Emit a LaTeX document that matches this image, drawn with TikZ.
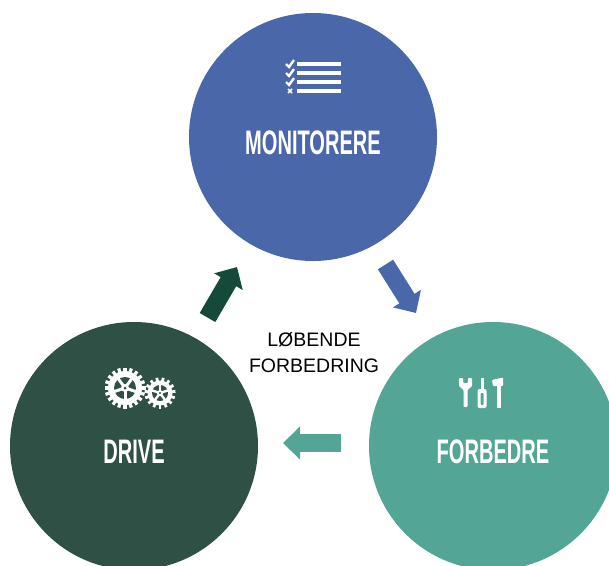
\documentclass[tikz,border=0pt]{standalone}
\usepackage{fontspec}
\setmainfont{Liberation Sans}
\newfontfamily\titlefont{Liberation Sans}[FakeStretch=0.59]
\usepackage{tikz}
\usetikzlibrary{arrows.meta}

\definecolor{monblue}{HTML}{4A67AA}
\definecolor{drivegreen}{HTML}{2F5045}
\definecolor{forbteal}{HTML}{53A596}
\definecolor{arrowgreen}{HTML}{15493A}

\begin{document}
\begin{tikzpicture}[x=1pt, y=-1pt,
    stage/.style={circle, minimum size=248pt, inner sep=0pt},
    title/.style={text=white, inner sep=0pt, font=\titlefont\bfseries\fontsize{34}{34}\selectfont},
    fat arrow/.style={line width=18pt, -{Triangle[width=32pt,length=17pt]}},
    icon/.style={white, line width=3.5pt}]
    \useasboundingbox[fill=white] (0,0) rectangle (609,565);
    \clip (0,0) rectangle (609,565);

    \node[stage, fill=monblue] (mon) at (313,137) {};
    \node[stage, fill=drivegreen] (drive) at (134,446) {};
    \node[stage, fill=forbteal] (forb) at (493,446) {};

    \node[title] (monT) at (313,143) {MONITORERE};
    \node[title] (driveT) at (134,452) {DRIVE};
    \node[title] (forbT) at (493,452) {FORBEDRE};

    \node[align=center, font=\fontsize{19.5}{26}\selectfont] (loop) at (314,353) {LØBENDE\\FORBEDRING};

    \coordinate (a1) at (385.5,264.5);
    \coordinate (a2) at (416,313);
    \coordinate (b1) at (207.5,317.5);
    \coordinate (b2) at (237,267);
    \coordinate (c1) at (341,443);
    \coordinate (c2) at (283,443);
    \draw[fat arrow, monblue] (a1) -- (a2);
    \draw[fat arrow, arrowgreen] (b1) -- (b2);
    \draw[fat arrow, forbteal] (c1) -- (c2);

    \begin{scope}[shift={(297,0)}]
        \foreach \y in {64,73,82,91}
            \draw[icon] (0,\y) -- (44,\y);
        \foreach \y in {64,73,82}
            \draw[white, line width=2.4pt] (-11,\y) -- (-8,\y+3) -- (-3,\y-4);
        \draw[white, line width=1.6pt] (-9,89) -- (-5,93) (-9,93) -- (-5,89);
    \end{scope}

    \begin{scope}[shift={(125,388)}]
        \fill[white] (0,0) circle (17);
        \foreach \a in {0,18,...,342}
            \fill[white, rotate=\a] (-1.6,15) rectangle (1.6,20.5);
        \fill[drivegreen] (0,0) circle (11);
        \fill[white] (0,0) circle (4);
        \foreach \a in {0,72,...,288}
            \draw[white, line width=3pt, rotate=\a] (0,0) -- (0,11.5);
        \fill[drivegreen] (0,0) circle (1.5);
    \end{scope}
    \begin{scope}[shift={(160,393)}]
        \fill[white] (0,0) circle (12.5);
        \foreach \a in {0,24,...,336}
            \fill[white, rotate=\a] (-1.4,11) rectangle (1.4,15.5);
        \fill[drivegreen] (0,0) circle (8);
        \fill[white] (0,0) circle (3);
        \foreach \a in {36,108,...,324}
            \draw[white, line width=2.4pt, rotate=\a] (0,0) -- (0,8.5);
        \fill[drivegreen] (0,0) circle (1.2);
    \end{scope}

    \fill[white, rounded corners=0.8pt] (459,378) -- (463,378) -- (463,383) -- (468,383) -- (468,378)
        -- (472,378) -- (472,386) -- (467.5,390) -- (467.5,407) -- (463.5,407) -- (463.5,390) -- (459,386) -- cycle;
    \fill[white] (481,378) rectangle (483.5,390);
    \fill[white, rounded corners=2pt] (477.5,389) rectangle (486.5,408);
    \fill[forbteal, rounded corners=1pt] (480.5,393) rectangle (483.5,405);
    \fill[white, rounded corners=0.8pt] (492,380) -- (503,377.5) -- (503,386) -- (493,386) -- cycle;
    \fill[white] (497,385) rectangle (501,408);
\end{tikzpicture}
\end{document}
